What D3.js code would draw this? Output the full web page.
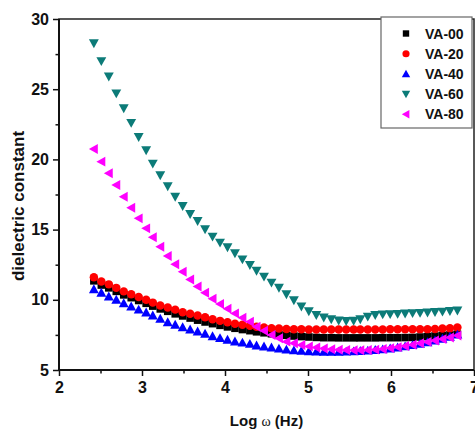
<!DOCTYPE html>
<html>
<head>
<meta charset="utf-8">
<script src="https://cdn.jsdelivr.net/npm/d3@7/dist/d3.min.js"></script>
<style>
  html, body { margin: 0; padding: 0; background: #fff; }
  svg { display: block; }
  text { font-family: Arial, "Liberation Sans", sans-serif; }
</style>
</head>
<body>
<svg id="chart" width="475" height="431"></svg>
<script>
// ---- data ----
const logOmega = [2.42, 2.51, 2.60, 2.69, 2.78, 2.87, 2.96, 3.05, 3.13, 3.22,
  3.31, 3.40, 3.49, 3.58, 3.67, 3.76, 3.85, 3.94, 4.03, 4.12,
  4.21, 4.30, 4.38, 4.47, 4.56, 4.65, 4.74, 4.83, 4.92, 5.01,
  5.10, 5.19, 5.28, 5.37, 5.46, 5.55, 5.63, 5.72, 5.81, 5.90,
  5.99, 6.08, 6.17, 6.26, 6.35, 6.44, 6.53, 6.62, 6.71, 6.80];

const va00 = [11.35, 11.05, 10.85, 10.6, 10.35, 10.15, 9.95, 9.75, 9.55, 9.35,
  9.18, 9.0, 8.85, 8.7, 8.55, 8.42, 8.3, 8.18, 8.07, 7.97,
  7.88, 7.8, 7.72, 7.65, 7.58, 7.52, 7.47, 7.42, 7.38, 7.35,
  7.32, 7.3, 7.3, 7.29, 7.29, 7.29, 7.29, 7.29, 7.29, 7.3,
  7.3, 7.3, 7.31, 7.32, 7.35, 7.38, 7.42, 7.46, 7.5, 7.55];

const va20 = [11.6, 11.3, 11.1, 10.85, 10.6, 10.4, 10.2, 10.0, 9.8, 9.6,
  9.45, 9.3, 9.12, 9.0, 8.88, 8.75, 8.62, 8.5, 8.4, 8.3,
  8.22, 8.15, 8.08, 8.02, 7.98, 7.95, 7.92, 7.9, 7.9, 7.89,
  7.89, 7.89, 7.89, 7.89, 7.89, 7.89, 7.89, 7.89, 7.89, 7.89,
  7.9, 7.9, 7.9, 7.9, 7.91, 7.91, 7.92, 7.95, 7.98, 8.02];

const va40 = [10.75, 10.5, 10.23, 10.0, 9.76, 9.52, 9.3, 9.1, 8.88, 8.65,
  8.4, 8.22, 8.05, 7.88, 7.74, 7.58, 7.4, 7.27, 7.15, 7.03,
  6.95, 6.86, 6.75, 6.67, 6.6, 6.52, 6.45, 6.4, 6.36, 6.33,
  6.31, 6.3, 6.3, 6.3, 6.31, 6.33, 6.35, 6.38, 6.42, 6.47,
  6.53, 6.6, 6.68, 6.77, 6.87, 6.98, 7.1, 7.23, 7.37, 7.52];

const va60 = [28.27, 27.0, 25.9, 24.7, 23.64, 22.6, 21.6, 20.65, 19.7, 18.87,
  18.09, 17.34, 16.68, 16.11, 15.61, 15.02, 14.5, 14.07, 13.74, 13.31,
  12.88, 12.48, 12.07, 11.65, 11.22, 10.86, 10.4, 9.97, 9.52, 9.18,
  8.92, 8.74, 8.61, 8.52, 8.49, 8.51, 8.62, 8.8, 8.92, 8.96,
  8.98, 9.0, 9.02, 9.05, 9.07, 9.1, 9.13, 9.16, 9.2, 9.24];

const va80 = [20.74, 19.84, 19.01, 18.18, 17.34, 16.56, 15.8, 15.09, 14.45, 13.78,
  13.12, 12.53, 12.0, 11.45, 10.95, 10.5, 10.08, 9.7, 9.36, 9.03,
  8.72, 8.44, 8.08, 7.8, 7.49, 7.26, 7.02, 6.9, 6.78, 6.68,
  6.6, 6.53, 6.48, 6.44, 6.42, 6.41, 6.41, 6.42, 6.45, 6.5,
  6.56, 6.63, 6.71, 6.8, 6.9, 7.0, 7.1, 7.2, 7.32, 7.45];

const seriesNames = ["VA-00", "VA-20", "VA-40", "VA-60", "VA-80"];
const seriesValues = [va00, va20, va40, va60, va80];
const seriesColors = ["#000000", "#ff0000", "#0000ff", "#0c7b78", "#ff00ff"];
const seriesShapes = ["square", "circle", "triUp", "triDown", "triLeft"];

const xTicks = [2, 3, 4, 5, 6, 7];
const yTicks = [5, 10, 15, 20, 25, 30];
const xMinor = [2.5, 3.5, 4.5, 5.5, 6.5];
const yMinor = [7.5, 12.5, 17.5, 22.5, 27.5];
const xTitle = "Log ";
const xTitleSym = "\u03c9";
const xTitleUnit = " (Hz)";
const yTitle = "dielectric constant";

// ---- layout ----
const svg = d3.select("#chart");
const L = 59, R = 474, T = 19, B = 370;
const x = d3.scaleLinear().domain([2, 7]).range([L, R]);
const y = d3.scaleLinear().domain([5, 30]).range([B, T]);

function markerPath(shape, s) {
  const p = d3.path();
  if (shape === "square") {
    const h = s * 0.42; p.rect(-h, -h, 2 * h, 2 * h);
  } else if (shape === "circle") {
    p.arc(0, 0, s * 0.47, 0, 2 * Math.PI);
  } else if (shape === "triUp") {
    const h = s * 0.55;
    p.moveTo(0, -h); p.lineTo(h, h * 0.8); p.lineTo(-h, h * 0.8); p.closePath();
  } else if (shape === "triDown") {
    const h = s * 0.55;
    p.moveTo(0, h); p.lineTo(h, -h * 0.8); p.lineTo(-h, -h * 0.8); p.closePath();
  } else if (shape === "triLeft") {
    const h = s * 0.55;
    p.moveTo(-h, 0); p.lineTo(h * 0.8, -h); p.lineTo(h * 0.8, h); p.closePath();
  }
  return p.toString();
}

// data markers
const plot = svg.append("g");
seriesValues.forEach((vals, si) => {
  plot.append("g")
    .selectAll("path")
    .data(vals.map((v, i) => [logOmega[i], v]))
    .join("path")
    .attr("transform", d => `translate(${x(d[0])},${y(d[1])})`)
    .attr("d", markerPath(seriesShapes[si], 9))
    .attr("fill", seriesColors[si]);
});

// frame
svg.append("rect")
  .attr("x", L).attr("y", T).attr("width", R - L).attr("height", B - T)
  .attr("fill", "none").attr("stroke", "#222").attr("stroke-width", 1.5);

// axes
const xAxis = svg.append("g").attr("transform", `translate(0,${B})`)
  .call(d3.axisBottom(x).tickValues(xTicks).tickFormat(d3.format("d")).tickSize(6).tickPadding(6));
const xAxisMinor = svg.append("g").attr("transform", `translate(0,${B})`)
  .call(d3.axisBottom(x).tickValues(xMinor).tickFormat("").tickSize(3.5));
const yAxis = svg.append("g").attr("transform", `translate(${L},0)`)
  .call(d3.axisLeft(y).tickValues(yTicks).tickFormat(d3.format("d")).tickSize(6).tickPadding(4));
const yAxisMinor = svg.append("g").attr("transform", `translate(${L},0)`)
  .call(d3.axisLeft(y).tickValues(yMinor).tickFormat("").tickSize(3.5));

[xAxis, xAxisMinor, yAxis, yAxisMinor].forEach(g => {
  g.select(".domain").attr("stroke", "#111").attr("stroke-width", 2);
  g.selectAll(".tick line").attr("stroke", "#111").attr("stroke-width", 1.5);
  g.selectAll("text").attr("font-size", 16).attr("font-weight", "bold")
    .attr("fill", "#111").attr("font-family", "Arial, 'Liberation Sans', sans-serif");
});
xAxis.selectAll(".domain").attr("d", `M${L},0H${R}`);
yAxis.selectAll(".domain").attr("d", `M0,${B}V${T}`);
xAxisMinor.select(".domain").remove();
yAxisMinor.select(".domain").remove();

// axis titles
const xt = svg.append("text")
  .attr("x", (L + R) / 2).attr("y", 426)
  .attr("text-anchor", "middle")
  .attr("font-size", 15).attr("font-weight", "bold").attr("fill", "#111");
xt.append("tspan").text(xTitle);
xt.append("tspan").text(xTitleSym)
  .attr("font-family", "'Liberation Serif', 'DejaVu Serif', serif").attr("font-weight", "normal").attr("font-size", 14);
xt.append("tspan").text(xTitleUnit);

svg.append("text")
  .attr("transform", `translate(24,206) rotate(-90)`)
  .attr("text-anchor", "middle")
  .attr("font-size", 17).attr("font-weight", "bold").attr("fill", "#111")
  .text(yTitle);

// legend
const lg = svg.append("g");
lg.append("rect")
  .attr("x", 381).attr("y", 17).attr("width", 91).attr("height", 111)
  .attr("fill", "#fff").attr("stroke", "#666").attr("stroke-width", 1.2);
seriesNames.forEach((name, i) => {
  const cy = 33.5 + i * 20.2;
  lg.append("path")
    .attr("transform", `translate(406,${cy})`)
    .attr("d", markerPath(seriesShapes[i], 7.6))
    .attr("fill", seriesColors[i]);
  lg.append("text")
    .attr("x", 425).attr("y", cy + 5)
    .attr("font-size", 14).attr("font-weight", "bold").attr("fill", "#111")
    .text(name);
});
</script>
</body>
</html>
